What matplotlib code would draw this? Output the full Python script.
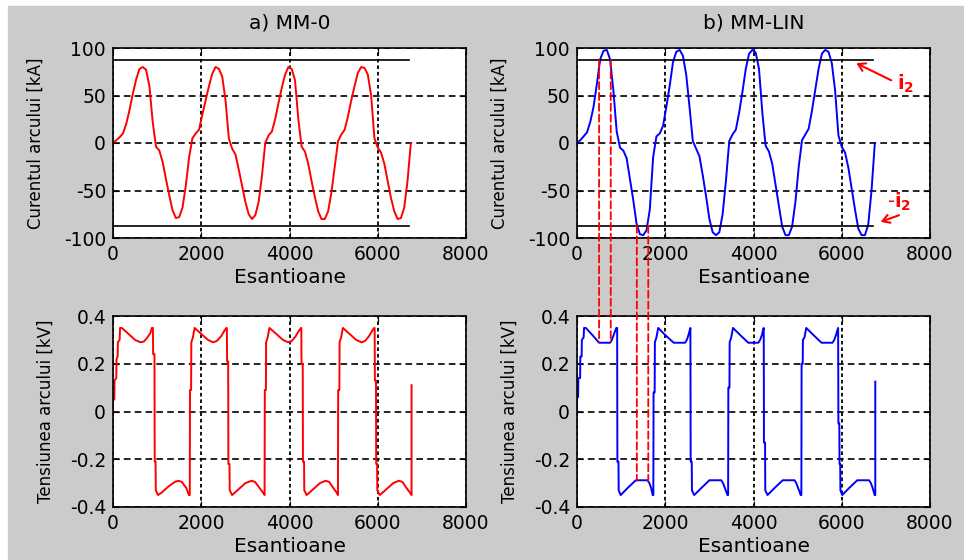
import numpy as np
import matplotlib
matplotlib.use('Agg')
import matplotlib.pyplot as plt
from matplotlib.patches import Rectangle, ConnectionPatch

plt.rcParams['font.family'] = ['DejaVu Sans']
plt.rcParams['axes.unicode_minus'] = False

# Esantioane (pas 75)
samples = np.arange(0, 6751, 75)

# Curentul arcului [kA]
i_mm0 = [0, 3, 6, 10, 20, 35, 52, 67, 78, 80,
         77, 60, 22, -4, -8, -20, -38, -55, -71, -79,
         -78, -68, -45, -15, 5, 10, 14, 30, 45, 60,
         73, 80, 78, 70, 45, 5, -6, -12, -28, -45,
         -62, -75, -80, -76, -62, -35, 0, 8, 12, 25,
         42, 58, 72, 80, 78, 66, 25, -4, -9, -22,
         -40, -57, -72, -80, -80, -72, -52, -25, 2, 9,
         14, 28, 45, 60, 74, 80, 79, 72, 50, 5,
         -5, -10, -22, -40, -58, -72, -80, -79, -68, -40,
         0]
i_lin = [0, 3, 7, 11, 22, 38, 62, 88, 97, 98,
         88, 55, 12, -5, -8, -16, -38, -60, -85, -96,
         -97, -92, -70, -15, 7, 10, 18, 38, 60, 85,
         96, 98, 92, 72, 38, 2, -6, -14, -34, -56,
         -80, -94, -97, -94, -75, -40, 2, 9, 14, 32,
         54, 78, 94, 98, 95, 78, 32, -3, -9, -22,
         -44, -66, -88, -97, -97, -88, -62, -25, 3, 9,
         15, 34, 56, 78, 94, 98, 96, 84, 55, 8,
         -4, -10, -26, -48, -70, -90, -97, -97, -86, -50,
         0]

# nivelul i2 (linii negre)
i2 = 87
i2_end = 6710

# Tensiunea arcului [kV] - varfuri
u_mm0_x = [0, 0, 30, 35, 75, 80, 105, 110, 150, 160, 200, 350, 500, 620, 700, 780, 850, 880, 905,
           910, 940, 945, 965, 970, 1020, 1100, 1250, 1400, 1480, 1560, 1660, 1720, 1740,
           1745, 1770, 1775, 1810, 1850, 2000, 2150, 2270, 2350, 2450, 2530, 2570, 2580,
           2586, 2610, 2615, 2640, 2645, 2700, 2850, 3000, 3140, 3220, 3320, 3400, 3435,
           3441, 3465, 3470, 3505, 3545, 3700, 3850, 3970, 4050, 4140, 4220, 4260, 4268,
           4272, 4300, 4305, 4330, 4335, 4390, 4540, 4690, 4820, 4900, 4990, 5070, 5098,
           5103, 5130, 5135, 5170, 5210, 5360, 5510, 5630, 5710, 5800, 5880, 5920, 5930,
           5935, 5960, 5965, 5985, 5990, 6045, 6200, 6350, 6480, 6560, 6650, 6730, 6766, 6766]
u_mm0_y = [0, 0.05, 0.05, 0.13, 0.14, 0.22, 0.23, 0.29, 0.30, 0.35, 0.35, 0.325, 0.30, 0.29, 0.293, 0.31, 0.33, 0.35, 0.35,
           0.24, 0.24, -0.21, -0.21, -0.33, -0.35, -0.34, -0.315, -0.295, -0.29, -0.295, -0.32, -0.35, -0.35,
           0.09, 0.09, 0.29, 0.31, 0.35, 0.325, 0.30, 0.29, 0.295, 0.315, 0.34, 0.35, 0.35,
           0.21, 0.21, -0.22, -0.22, -0.33, -0.35, -0.325, -0.30, -0.29, -0.295, -0.32, -0.34, -0.35,
           0.09, 0.09, 0.29, 0.31, 0.35, 0.325, 0.30, 0.29, 0.295, 0.315, 0.34, 0.35, 0.35,
           0.20, 0.20, -0.21, -0.21, -0.33, -0.35, -0.325, -0.30, -0.29, -0.295, -0.32, -0.34, -0.35,
           0.09, 0.09, 0.29, 0.31, 0.35, 0.325, 0.30, 0.29, 0.295, 0.315, 0.34, 0.35, 0.35,
           0.13, 0.13, -0.22, -0.22, -0.33, -0.35, -0.325, -0.30, -0.29, -0.295, -0.32, -0.34, -0.35, 0.11]

u_lin_x = [0, 0, 25, 30, 70, 75, 105, 110, 150, 160, 200, 350, 490, 500, 750, 790, 830, 870, 890, 910,
           915, 940, 945, 990, 1150, 1320, 1330, 1600, 1640, 1680, 1715, 1730,
           1735, 1760, 1765, 1800, 1840, 2000, 2180, 2190, 2450, 2490, 2525, 2555, 2570,
           2576, 2600, 2605, 2655, 2820, 2990, 3000, 3270, 3310, 3350, 3410, 3425,
           3430, 3455, 3460, 3495, 3535, 3700, 3870, 3880, 4110, 4150, 4190, 4215, 4232,
           4237, 4262, 4267, 4317, 4480, 4650, 4660, 4930, 4970, 5010, 5070, 5085,
           5090, 5115, 5120, 5155, 5195, 5360, 5530, 5540, 5790, 5830, 5870, 5900, 5918,
           5924, 5945, 5950, 5965, 5970, 6010, 6170, 6340, 6350, 6620, 6660, 6700, 6745, 6760, 6760]
u_lin_y = [0, 0.06, 0.06, 0.14, 0.14, 0.23, 0.23, 0.30, 0.31, 0.35, 0.35, 0.32, 0.29, 0.288, 0.288, 0.30, 0.32, 0.34, 0.35, 0.35,
           -0.21, -0.21, -0.33, -0.35, -0.32, -0.29, -0.288, -0.288, -0.30, -0.32, -0.35, -0.35,
           0.08, 0.08, 0.29, 0.31, 0.35, 0.32, 0.29, 0.288, 0.288, 0.30, 0.32, 0.34, 0.35,
           -0.21, -0.21, -0.33, -0.35, -0.32, -0.29, -0.288, -0.288, -0.30, -0.32, -0.35, -0.35,
           0.10, 0.10, 0.29, 0.31, 0.35, 0.32, 0.29, 0.288, 0.288, 0.30, 0.32, 0.34, 0.35,
           -0.13, -0.13, -0.33, -0.35, -0.32, -0.29, -0.288, -0.288, -0.30, -0.32, -0.35, -0.35,
           0.20, 0.20, 0.30, 0.31, 0.35, 0.32, 0.29, 0.288, 0.288, 0.30, 0.32, 0.34, 0.35,
           -0.05, -0.05, -0.22, -0.22, -0.33, -0.35, -0.32, -0.29, -0.288, -0.288, -0.30, -0.32, -0.35, -0.35, 0.125]

# liniile rosii punctate intre grafice (b)
mark_x = [500, 765, 1356, 1615]
mark_i = [87, 87, -87, -87]
mark_u = [0.29, 0.29, -0.29, -0.29]

titles = ['a) MM-0', 'b) MM-LIN']
xticks = [0, 2000, 4000, 6000, 8000]
i_ticks = [-100, -50, 0, 50, 100]
u_ticks = [-0.4, -0.2, 0, 0.2, 0.4]
u_ticklabels = ['-0.4', '-0.2', '0', '0.2', '0.4']


fig = plt.figure(figsize=(9.64, 5.6), dpi=100, facecolor='white')
# fundal gri (ca in matlab)
fig.patches.append(Rectangle((8 / 964, 0), 1, 1 - 6 / 560, transform=fig.transFigure,
                             color='#cbcbcb', zorder=-10))

W = 353 / 964
ax_tl = fig.add_axes([113 / 964, 1 - 238 / 560, W, 190 / 560])
ax_tr = fig.add_axes([577 / 964, 1 - 238 / 560, W, 190 / 560])
ax_bl = fig.add_axes([113 / 964, 1 - 507 / 560, W, 191 / 560])
ax_br = fig.add_axes([577 / 964, 1 - 507 / 560, W, 191 / 560])


def style(ax):
    ax.set_facecolor('white')
    ax.set_xlim(0, 8000)
    ax.set_xticks(xticks)
    ax.xaxis.grid(True, color='k', linestyle=(0, (2, 1.6)), lw=1.3)
    ax.yaxis.grid(True, color='k', linestyle=(0, (4, 2.5)), lw=1.2)
    ax.tick_params(direction='in', length=4, top=True, right=True, labelsize=13.5, pad=5)
    for s in ax.spines.values():
        s.set_linewidth(1.2)
    ax.set_xlabel('Esantioane', fontsize=14.5, labelpad=3)


# curent
for ax, i_data, col, t in [(ax_tl, i_mm0, 'red', titles[0]), (ax_tr, i_lin, 'blue', titles[1])]:
    style(ax)
    ax.plot(samples, i_data, color=col, lw=1.4)
    ax.plot([0, i2_end], [i2, i2], color='k', lw=1.2)
    ax.plot([0, i2_end], [-i2, -i2], color='k', lw=1.2)
    ax.set_ylim(-100, 100)
    ax.set_yticks(i_ticks)
    ax.set_ylabel('Curentul arcului [kA]', fontsize=12, labelpad=14)
    ax.set_title(t, fontsize=14.5, pad=14)

# tensiune
for ax, ux, uy, col in [(ax_bl, u_mm0_x, u_mm0_y, 'red'), (ax_br, u_lin_x, u_lin_y, 'blue')]:
    style(ax)
    ax.plot(ux, uy, color=col, lw=1.4)
    ax.set_ylim(-0.4, 0.4)
    ax.set_yticks(u_ticks)
    ax.set_yticklabels(u_ticklabels)
    ax.set_ylabel('Tensiunea arcului [kV]', fontsize=12, labelpad=11)

# sagetile i2
ax_tr.annotate('', xy=(6328, 84), xytext=(7120, 66),
               arrowprops=dict(arrowstyle='->,head_length=0.5,head_width=0.3', color='red', lw=1.5,
                               shrinkA=0, shrinkB=0))
ax_tr.text(7250, 62, r'$\mathbf{i_2}$', color='red', fontsize=14, va='center')
ax_tr.annotate('', xy=(6880, -83), xytext=(7300, -76),
               arrowprops=dict(arrowstyle='->,head_length=0.5,head_width=0.3', color='red', lw=1.5,
                               shrinkA=0, shrinkB=0))
ax_tr.text(7030, -62, r'-$\mathbf{i_2}$', color='red', fontsize=14, va='center')

# linii rosii intre curent si tensiune
for mx, mi, mu in zip(mark_x, mark_i, mark_u):
    con = ConnectionPatch(xyA=(mx, mi), coordsA=ax_tr.transData,
                          xyB=(mx, mu), coordsB=ax_br.transData,
                          color='red', lw=1.3, linestyle=(0, (4, 2)), zorder=5)
    fig.add_artist(con)

fig.savefig('out.png', dpi=100, facecolor=fig.get_facecolor())
